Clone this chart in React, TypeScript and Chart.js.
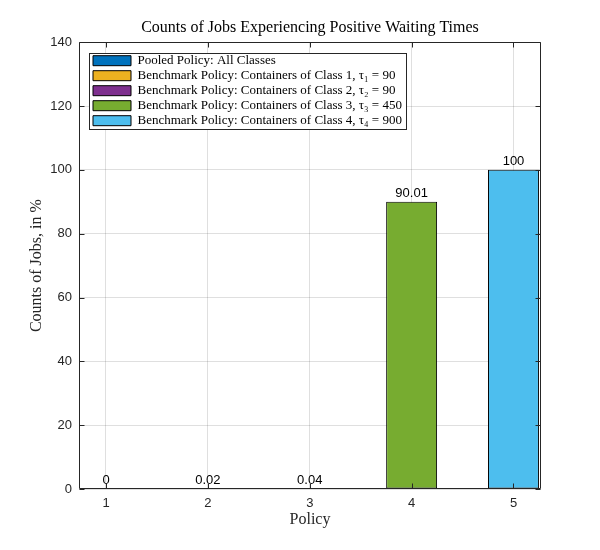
import { useEffect, useRef } from 'react';
import { Chart, registerables, Plugin } from 'chart.js';

Chart.register(...registerables);

const POLICIES = [1, 2, 3, 4, 5];
const COUNTS = [0, 0.02, 0.04, 90.01, 100];
const SERIES = [
  'Pooled Policy: All Classes',
  'Benchmark Policy: Containers of Class 1, τ₁ = 90',
  'Benchmark Policy: Containers of Class 2, τ₂ = 90',
  'Benchmark Policy: Containers of Class 3, τ₃ = 450',
  'Benchmark Policy: Containers of Class 4, τ₄ = 900',
];
const COLORS = ['#0072BD', '#EDB120', '#7E2F8E', '#77AC30', '#4DBEEE'];
const Y_TICKS = [0, 20, 40, 60, 80, 100, 120, 140];

const AXIS = '#262626';
const SERIF = '"Liberation Serif", "Times New Roman", serif';
const SANS = '"Liberation Sans", Arial, sans-serif';

// box around the axes, inward ticks, value labels and the legend frame
const framePlugin: Plugin<'bar'> = {
  id: 'frame',
  afterLayout(chart) {
    // legend sits inside the axes, top-left
    const lg = chart.legend;
    if (!lg) return;
    lg.left = chart.chartArea.left + 12;
    lg.top = chart.chartArea.top + 10;
    lg.right = lg.left + lg.width;
    lg.bottom = lg.top + lg.height;
  },
  afterDatasetsDraw(chart) {
    const { ctx, chartArea: a } = chart;
    const xs = chart.scales.x;
    const ys = chart.scales.y;
    const L = Math.round(a.left) + 0.5;
    const R = Math.round(a.right) - 0.5;
    const T = Math.round(a.top) + 0.5;
    const B = Math.round(a.bottom) - 0.5;
    const tl = 5;

    ctx.save();

    // value labels over the bars
    ctx.fillStyle = '#000';
    ctx.font = `13px ${SANS}`;
    ctx.textAlign = 'center';
    ctx.textBaseline = 'bottom';
    chart.data.datasets.forEach((ds, i) => {
      const el = chart.getDatasetMeta(i).data[0];
      if (!el) return;
      ctx.fillText(String(COUNTS[i]), el.x, el.y - 2);
    });

    ctx.strokeStyle = AXIS;
    ctx.lineWidth = 1;
    ctx.beginPath();
    ctx.rect(L, T, R - L, B - T);
    xs.ticks.forEach((t) => {
      const px = Math.round(xs.getPixelForValue(t.value)) + 0.5;
      ctx.moveTo(px, B);
      ctx.lineTo(px, B - tl);
      ctx.moveTo(px, T);
      ctx.lineTo(px, T + tl);
    });
    ys.ticks.forEach((t) => {
      const py = Math.round(ys.getPixelForValue(t.value)) + 0.5;
      ctx.moveTo(L, py);
      ctx.lineTo(L + tl, py);
      ctx.moveTo(R, py);
      ctx.lineTo(R - tl, py);
    });
    ctx.stroke();

    // legend frame with white fill, then legend on top
    const lg = chart.legend;
    if (lg && lg.legendHitBoxes && lg.legendHitBoxes.length) {
      const hb = lg.legendHitBoxes;
      const x0 = Math.round(Math.min(...hb.map((h) => h.left)) - 4);
      const y0 = Math.round(Math.min(...hb.map((h) => h.top)) - 1.5);
      const x1 = Math.round(Math.max(...hb.map((h) => h.left + h.width)) + 4.5);
      const y1 = Math.round(Math.max(...hb.map((h) => h.top + h.height)) + 2);
      ctx.fillStyle = '#fff';
      ctx.fillRect(x0, y0, x1 - x0, y1 - y0);
      ctx.strokeStyle = AXIS;
      ctx.strokeRect(x0 + 0.5, y0 + 0.5, x1 - x0, y1 - y0);
      ctx.restore();
      lg.draw();
      return;
    }
    ctx.restore();
  },
};

const App = () => {
  const canvasRef = useRef<HTMLCanvasElement>(null);
  const chartRef = useRef<Chart | null>(null);

  useEffect(() => {
    if (!canvasRef.current) return;
    if (chartRef.current) chartRef.current.destroy();

    chartRef.current = new Chart(canvasRef.current, {
      type: 'bar',
      data: {
        datasets: SERIES.map((label, i) => ({
          label,
          data: [{ x: POLICIES[i], y: COUNTS[i] }],
          backgroundColor: COLORS[i],
          borderColor: '#000',
          borderWidth: 1,
          borderSkipped: false,
          grouped: false,
          barPercentage: 0.5,
          categoryPercentage: 1,
        })),
      },
      options: {
        animation: false,
        responsive: true,
        maintainAspectRatio: false,
        layout: { padding: { left: 0, right: 59, top: 0, bottom: 0 } },
        scales: {
          x: {
            type: 'linear',
            offset: false,
            min: 0.735,
            max: 5.27,
            afterBuildTicks: (s) => {
              s.ticks = POLICIES.map((v) => ({ value: v }));
            },
            afterFit: (s) => {
              s.height = 61;
            },
            grid: { color: 'rgba(38,38,38,0.15)', drawTicks: false, offset: false },
            border: { display: false },
            ticks: { color: AXIS, padding: 7, font: { family: SANS, size: 13 } },
            title: {
              display: true,
              text: 'Policy',
              color: AXIS,
              font: { family: SERIF, size: 16 },
              padding: { top: 0, bottom: 20.4 },
            },
          },
          y: {
            min: 0,
            max: 140,
            afterBuildTicks: (s) => {
              s.ticks = Y_TICKS.map((v) => ({ value: v }));
            },
            afterFit: (s) => {
              s.width = 79;
            },
            grid: { color: 'rgba(38,38,38,0.15)', drawTicks: false },
            border: { display: false },
            ticks: { color: AXIS, padding: 7, font: { family: SANS, size: 13 } },
            title: {
              display: true,
              text: 'Counts of Jobs, in %',
              color: AXIS,
              font: { family: SERIF, size: 16 },
              padding: { top: 27.4, bottom: 0 },
            },
          },
        },
        plugins: {
          title: {
            display: true,
            fullSize: false,
            text: 'Counts of Jobs Experiencing Positive Waiting Times',
            color: '#000',
            font: { family: SERIF, size: 16, weight: 'normal' },
            padding: { top: 18, bottom: 5 },
          },
          legend: {
            position: 'chartArea',
            align: 'start',
            labels: {
              boxWidth: 38,
              boxHeight: 10,
              padding: 2,
              color: '#000',
              font: { family: SERIF, size: 13 },
            },
          },
          tooltip: { enabled: false },
        },
      },
      plugins: [framePlugin],
    });

    return () => {
      if (chartRef.current) {
        chartRef.current.destroy();
        chartRef.current = null;
      }
    };
  }, []);

  return (
    <div style={{ position: 'absolute', left: 0, top: 0, width: 600, height: 550, background: '#fff' }}>
      <canvas ref={canvasRef} />
    </div>
  );
};

export default App;
